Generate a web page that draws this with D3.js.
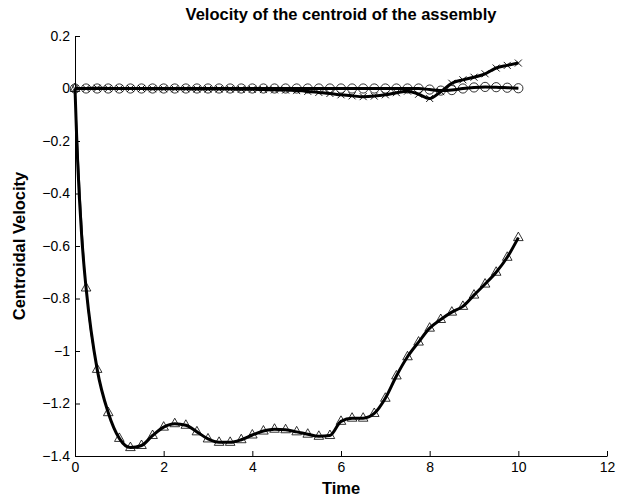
<!DOCTYPE html>
<html>
<head>
<meta charset="utf-8">
<script src="https://cdn.jsdelivr.net/npm/d3@7"></script>
<style>
  body { margin: 0; background: #fff; }
  text { font-family: Arial, "Liberation Sans", sans-serif; }
</style>
</head>
<body>
<script>
  "use strict"

  // Data
  const time = [0, 0.25, 0.5, 0.75, 1, 1.25, 1.5, 1.75, 2, 2.25, 2.5, 2.75, 3, 3.25, 3.5, 3.75,
    4, 4.25, 4.5, 4.75, 5, 5.25, 5.5, 5.75, 6, 6.25, 6.5, 6.75, 7, 7.25, 7.5, 7.75,
    8, 8.25, 8.5, 8.75, 9, 9.25, 9.5, 9.75, 10]

  // circles
  const velX = [0, 0, 0, 0, 0, 0, 0, 0, 0, 0, 0, 0, 0, 0, 0, 0,
    0, 0, 0, 0, 0, 0, 0, 0, 0, 0, 0, 0, 0, 0, 0, 0,
    -0.004, -0.008, -0.006, 0, 0.004, 0.006, 0.005, 0.003, 0.001]

  // crosses
  const velY = [0, 0, 0.001, 0, 0, 0, 0, -0.001, -0.001, -0.001, -0.001, -0.002, -0.002, -0.002, -0.002, -0.003,
    -0.003, -0.004, -0.005, -0.006, -0.008, -0.011, -0.015, -0.019, -0.024, -0.028, -0.031, -0.029, -0.024, -0.016, -0.01, -0.022,
    -0.038, -0.012, 0.02, 0.033, 0.043, 0.056, 0.078, 0.088, 0.097]

  // triangles
  const velZ = [0, -0.76, -1.07, -1.235, -1.333, -1.368, -1.36, -1.322, -1.29, -1.277, -1.283, -1.308, -1.335, -1.348, -1.348, -1.338,
    -1.32, -1.305, -1.298, -1.3, -1.308, -1.317, -1.325, -1.322, -1.268, -1.256, -1.256, -1.238, -1.18, -1.095, -1.022, -0.966,
    -0.913, -0.88, -0.852, -0.83, -0.787, -0.745, -0.7, -0.643, -0.568]

  // the thick z line drops fast at the start
  const velZStartTime = [0, 0.03, 0.06, 0.1, 0.15, 0.2]
  const velZStart = [0, -0.15, -0.28, -0.42, -0.56, -0.67]

  const xTicks = [0, 2, 4, 6, 8, 10, 12]
  const yTicks = [-1.4, -1.2, -1, -0.8, -0.6, -0.4, -0.2, 0, 0.2]

  const width = 621, height = 501
  const margin = { top: 36, right: 14, bottom: 45, left: 75 }

  const svg = d3.select('body').append('svg')
    .attr('width', width)
    .attr('height', height)

  const x = d3.scaleLinear().domain([0, 12]).range([margin.left, width - margin.right])
  const y = d3.scaleLinear().domain([-1.4, 0.2]).range([height - margin.bottom, margin.top])

  const fmt = d3.format('~g')

  // Axes (MATLAB style, ticks pointing in)
  const x_axis = svg.append('g')
    .attr('transform', `translate(0,${height - margin.bottom})`)
    .call(d3.axisBottom(x).tickValues(xTicks).tickFormat(fmt).tickSizeInner(-5).tickSizeOuter(0).tickPadding(6))
  const y_axis = svg.append('g')
    .attr('transform', `translate(${margin.left},0)`)
    .call(d3.axisLeft(y).tickValues(yTicks).tickFormat(fmt).tickSizeInner(-5).tickSizeOuter(0).tickPadding(5))

  for (let a of [x_axis, y_axis]) {
    a.attr('font-size', 14).attr('font-family', 'Arial, "Liberation Sans", sans-serif')
    a.selectAll('path, line').attr('stroke', '#000').attr('stroke-width', 1)
    a.selectAll('text').attr('fill', '#000')
  }

  // Titles
  const mid_x = (margin.left + width - margin.right) / 2
  svg.append('text')
    .attr('x', mid_x)
    .attr('y', 20)
    .attr('text-anchor', 'middle')
    .attr('font-size', 16.5)
    .attr('font-weight', 'bold')
    .text('Velocity of the centroid of the assembly')
  svg.append('text')
    .attr('x', mid_x)
    .attr('y', 494)
    .attr('text-anchor', 'middle')
    .attr('font-size', 16.5)
    .attr('font-weight', 'bold')
    .text('Time')
  svg.append('text')
    .attr('transform', `translate(25,${(margin.top + height - margin.bottom) / 2}) rotate(-90)`)
    .attr('text-anchor', 'middle')
    .attr('font-size', 16.5)
    .attr('font-weight', 'bold')
    .text('Centroidal Velocity')

  // Lines
  const line = d3.line()
    .x(d => x(d[0]))
    .y(d => y(d[1]))
    .curve(d3.curveMonotoneX)

  const pairs = (ts, vs) => ts.map((t, i) => [t, vs[i]])

  const ptsX = pairs(time, velX)
  const ptsY = pairs(time, velY)
  const ptsZ = pairs(time, velZ)
  const ptsZThick = pairs(velZStartTime, velZStart).concat(ptsZ.slice(1))

  const plot = svg.append('g')

  for (let pts of [ptsX, ptsY, ptsZThick]) {
    plot.append('path')
      .datum(pts)
      .attr('fill', 'none')
      .attr('stroke', '#000')
      .attr('stroke-width', 3)
      .attr('stroke-linejoin', 'round')
      .attr('d', line)
  }
  for (let pts of [ptsX, ptsY, ptsZ]) {
    plot.append('path')
      .datum(pts)
      .attr('fill', 'none')
      .attr('stroke', '#000')
      .attr('stroke-width', 0.8)
      .attr('d', line)
  }

  // Markers
  plot.selectAll('circle.mk')
    .data(ptsX)
    .enter().append('circle')
      .attr('class', 'mk')
      .attr('cx', d => x(d[0]))
      .attr('cy', d => y(d[1]))
      .attr('r', 4.6)
      .attr('fill', 'none')
      .attr('stroke', '#000')
      .attr('stroke-width', 0.8)

  plot.selectAll('path.cross')
    .data(ptsY)
    .enter().append('path')
      .attr('class', 'cross')
      .attr('transform', d => `translate(${x(d[0])},${y(d[1])})`)
      .attr('d', 'M-3.5,-3.5L3.5,3.5M-3.5,3.5L3.5,-3.5')
      .attr('fill', 'none')
      .attr('stroke', '#000')
      .attr('stroke-width', 0.9)

  plot.selectAll('path.tri')
    .data(ptsZ)
    .enter().append('path')
      .attr('class', 'tri')
      .attr('transform', d => `translate(${x(d[0])},${y(d[1])})`)
      .attr('d', 'M0,-5.5L4.8,3L-4.8,3Z')
      .attr('fill', 'none')
      .attr('stroke', '#000')
      .attr('stroke-width', 0.8)
</script>
</body>
</html>
